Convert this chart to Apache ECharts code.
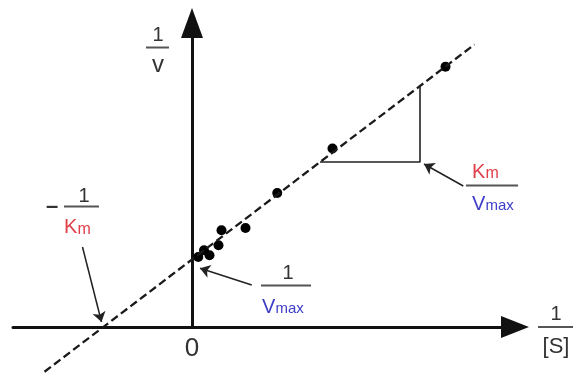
<!DOCTYPE html>
<html>
<head>
<meta charset="utf-8">
<script src="https://cdn.jsdelivr.net/npm/echarts@6/dist/echarts.min.js"></script>
<style>
  html, body { margin: 0; padding: 0; background: #fff; }
  #chart { width: 576px; height: 376px; }
</style>
</head>
<body>
<div id="chart"></div>
<script>
// measured points (1/[S], 1/v)
const pointsX = [0.25, 0.48, 0.70, 1.06, 1.18, 2.14, 3.41, 5.62, 10.14];
const pointsY = [2.80, 3.07, 2.87, 3.27, 3.87, 3.96, 5.36, 7.14, 10.41];

// dashed fit line ends
const fitX = [-5.9, 11.3];
const fitY = [-1.79, 11.3];

// slope triangle (Km/Vmax)
const slopeX = [5.12, 9.12, 9.12];
const slopeY = [6.6, 6.6, 9.64];

// annotation arrows: start -> tip
const arrowFrom = [[-4.38, 3.2], [2.39, 1.68], [10.85, 5.64]];
const arrowTo = [[-3.62, 0.2], [0.32, 2.35], [9.28, 6.52]];

const FONT = '"Liberation Sans", Arial, sans-serif';
const GRAY = '#333';
const RED = '#e0404a';
const BLUE = '#3d3dc8';

const chart = echarts.init(document.getElementById('chart'));

// text helper
const txt = (s, x, y, size, color, align, weight) => ({
  type: 'text', x: x, y: y, silent: true, z: 100,
  style: {
    text: s, fill: color || GRAY,
    font: (weight || 'normal') + ' ' + size + 'px ' + FONT,
    align: align || 'center', verticalAlign: 'middle',
    textAlign: align || 'center', textVerticalAlign: 'middle'
  }
});
// fraction bar helper
const bar = (x1, x2, y) => ({
  type: 'line', silent: true, z: 100,
  shape: { x1: x1, y1: y, x2: x2, y2: y },
  style: { stroke: '#555', lineWidth: 2 }
});

const option = {
  animation: false,
  grid: { left: 13, right: 61, top: 23, bottom: 49, containLabel: false, outerBoundsMode: 'none' },
  xAxis: {
    type: 'value', min: -7.16, max: 12.92,
    axisLine: { onZero: true, symbol: ['none', 'triangle'], symbolSize: [22, 28], lineStyle: { color: '#111', width: 3 } },
    axisTick: { show: false }, axisLabel: { show: false }, splitLine: { show: false }
  },
  yAxis: {
    type: 'value', min: 0, max: 12.16,
    axisLine: { onZero: true, symbol: ['none', 'triangle'], symbolSize: [22, 30], lineStyle: { color: '#111', width: 3 } },
    axisTick: { show: false }, axisLabel: { show: false }, splitLine: { show: false }
  },
  series: [
    {
      type: 'line', clip: false, showSymbol: false, silent: true,
      data: fitX.map((x, i) => [x, fitY[i]]),
      lineStyle: { color: '#1a1a1a', width: 2.3, type: [8, 4] }
    },
    {
      type: 'line', clip: false, showSymbol: false, silent: true,
      data: slopeX.map((x, i) => [x, slopeY[i]]),
      lineStyle: { color: '#222', width: 1.6 },
      markLine: {
        silent: true, symbol: ['none', 'arrow'], symbolSize: 10,
        label: { show: false },
        lineStyle: { color: '#222', width: 1.5, type: 'solid' },
        data: arrowFrom.map((p, i) => [{ coord: p }, { coord: arrowTo[i] }])
      }
    },
    {
      type: 'scatter', clip: false, silent: true,
      symbolSize: 10,
      itemStyle: { color: '#000', opacity: 1 },
      data: pointsX.map((x, i) => [x, pointsY[i]])
    }
  ],
  graphic: [
    // 1/v
    txt('1', 158, 35, 20), bar(146, 169, 47.5), txt('v', 158, 65, 24),
    // 1/[S]
    txt('1', 556, 314, 20), bar(538, 573, 327), txt('[S]', 556, 347, 22),
    // origin
    txt('0', 192, 349, 26),
    // -1/Km
    txt('\u2013', 52, 207, 22, GRAY, 'center', 'bold'),
    txt('1', 84, 196, 20), bar(64, 99, 206.5),
    txt('K', 64, 227, 20, RED, 'left'), txt('m', 77.5, 229.6, 16, RED, 'left'),
    // 1/Vmax
    txt('1', 288, 273, 20), bar(261, 311, 285.5),
    txt('V', 262, 307, 20, BLUE, 'left'), txt('max', 275.5, 308.5, 15, BLUE, 'left'),
    // Km/Vmax
    txt('K', 472, 172, 20, RED, 'left'), txt('m', 485.5, 174, 16, RED, 'left'),
    bar(466, 518, 185.5),
    txt('V', 472, 204.5, 20, BLUE, 'left'), txt('max', 485.5, 206, 15, BLUE, 'left')
  ]
};

chart.setOption(option);
</script>
</body>
</html>
